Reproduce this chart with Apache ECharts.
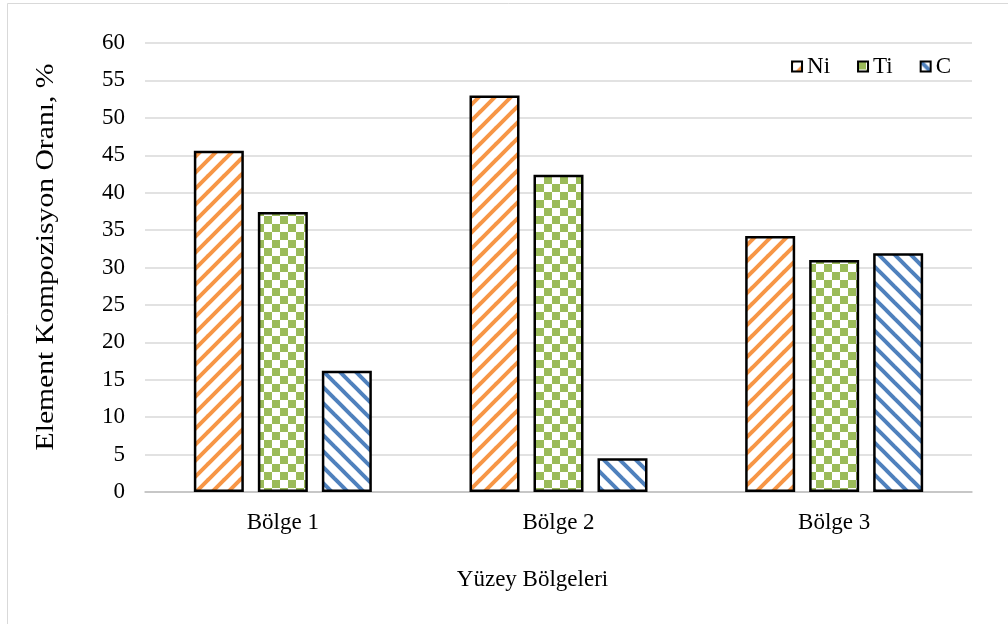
<!DOCTYPE html>
<html>
<head>
<meta charset="utf-8">
<script src="https://cdn.jsdelivr.net/npm/echarts@6/dist/echarts.min.js"></script>
<style>
  html, body { margin: 0; padding: 0; background: #fff; }
  #chart { width: 1008px; height: 624px; }
</style>
</head>
<body>
<div id="chart"></div>
<script>
// Element composition per surface region (%)
const regions = ['Bölge 1', 'Bölge 2', 'Bölge 3'];
const niValues = [45.6, 53.0, 34.2];
const tiValues = [37.4, 42.4, 31.0];
const cValues = [16.2, 4.5, 31.9];
const seriesNames = ['Ni', 'Ti', 'C'];
const yTicks = { min: 0, max: 60, interval: 5 };
const xTitle = 'Yüzey Bölgeleri';
const yTitle = 'Element Kompozisyon Oranı, %';

const FONT = '"Liberation Serif", "Times New Roman", serif';
const FS = 23;

// Hatch fills drawn on small tiles
function stripeTile(color, upward) {
  const c = document.createElement('canvas');
  const s = 16;
  c.width = s; c.height = s;
  const g = c.getContext('2d');
  g.fillStyle = '#fff';
  g.fillRect(0, 0, s, s);
  g.strokeStyle = color;
  g.lineWidth = 4;
  g.lineCap = 'square';
  for (let k = -1; k <= 1; k++) {
    g.beginPath();
    if (upward) {
      g.moveTo(k * s, s);
      g.lineTo(k * s + s, 0);
    } else {
      g.moveTo(k * s, 0);
      g.lineTo(k * s + s, s);
    }
    g.stroke();
  }
  return c;
}
function checkerTile(color) {
  const c = document.createElement('canvas');
  const s = 16, h = 8;
  c.width = s; c.height = s;
  const g = c.getContext('2d');
  g.fillStyle = '#fff';
  g.fillRect(0, 0, s, s);
  g.fillStyle = color;
  g.fillRect(0, 0, h, h);
  g.fillRect(h, h, h, h);
  return c;
}

const fills = [
  { image: stripeTile('#F79646', true), repeat: 'repeat' },
  { image: checkerTile('#9BBB59'), repeat: 'repeat' },
  { image: stripeTile('#4F81BD', false), repeat: 'repeat' }
];
const dataSets = [niValues, tiValues, cValues];

const chart = echarts.init(document.getElementById('chart'));
chart.setOption({
  backgroundColor: '#fff',
  animation: false,
  graphic: [
    {
      type: 'rect',
      shape: { x: 7.5, y: 3.5, width: 1100, height: 700 },
      style: { fill: 'none', stroke: '#d9d9d9', lineWidth: 1 },
      silent: true, z: -10
    },
    {
      // vertical axis title, slightly stretched along its run
      type: 'text',
      x: 46, y: 257,
      rotation: Math.PI / 2,
      scaleX: 1.14,
      style: {
        text: yTitle,
        font: '26px ' + FONT,
        fill: '#000',
        align: 'center',
        verticalAlign: 'middle'
      },
      silent: true
    }
  ],
  grid: { left: 145, right: 36, top: 43, bottom: 132 },
  legend: {
    right: 52, top: 50,
    itemWidth: 10, itemHeight: 10, itemGap: 27,
    icon: 'rect',
    itemStyle: { borderColor: '#000', borderWidth: 2 },
    textStyle: { fontFamily: FONT, fontSize: FS, color: '#000' },
    data: seriesNames
  },
  xAxis: {
    type: 'category',
    data: regions,
    name: xTitle,
    nameLocation: 'middle',
    nameGap: 76,
    nameTextStyle: { fontFamily: FONT, fontSize: FS, color: '#000', padding: [0, 52, 0, 0] },
    axisLine: { lineStyle: { color: '#bfbfbf', width: 1.5 } },
    axisTick: { show: false },
    axisLabel: { fontFamily: FONT, fontSize: FS, color: '#000', margin: 19 }
  },
  yAxis: {
    type: 'value',
    min: yTicks.min, max: yTicks.max, interval: yTicks.interval,
    axisLine: { show: false },
    axisTick: { show: false },
    axisLabel: { fontFamily: FONT, fontSize: FS, color: '#000', margin: 20 },
    splitLine: { lineStyle: { color: '#d9d9d9', width: 1.5 } }
  },
  series: seriesNames.map((name, i) => ({
    name,
    type: 'bar',
    data: dataSets[i],
    barWidth: 50,
    barGap: '28%',
    itemStyle: { color: fills[i], borderColor: '#000', borderWidth: 2.5 }
  }))
});
</script>
</body>
</html>
